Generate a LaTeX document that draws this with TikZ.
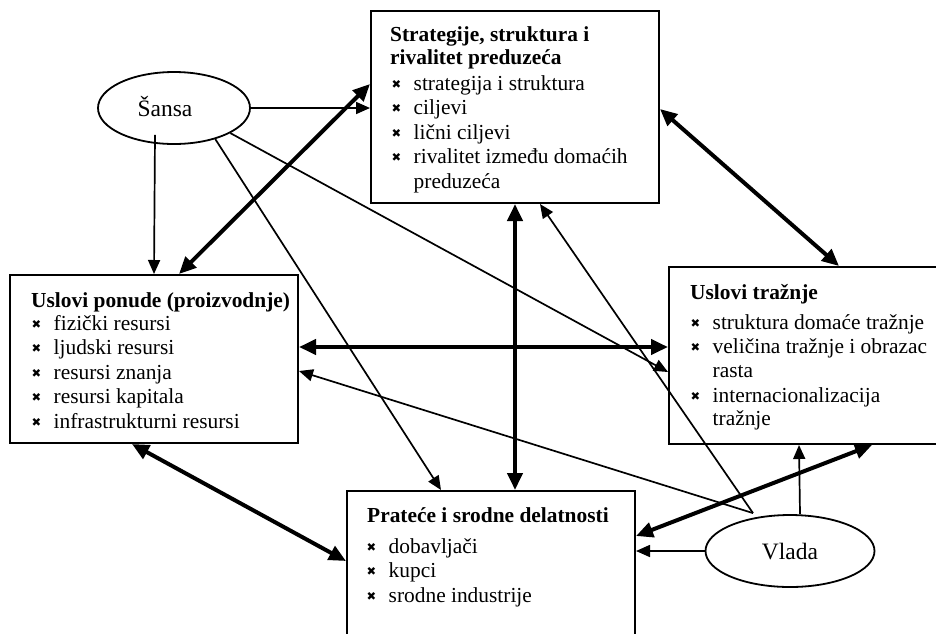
\documentclass[tikz,border=0pt]{standalone}
\usepackage{fontspec}
\setmainfont{Liberation Serif}
\newfontfamily\bulfont{DejaVu Sans}
\usetikzlibrary{arrows.meta,calc,shapes.geometric}
\newcommand\bulx{\makebox[22.5pt][l]{\hspace{0.5pt}\raisebox{2pt}{\bulfont\fontsize{11.5}{11.5}\selectfont ✖}}}
\tikzset{
  box/.style={draw,line width=2pt,rectangle,inner sep=0pt,fill=white},
  oval/.style={draw,line width=1.8pt,ellipse,inner sep=0pt},
  txt/.style={inner sep=0pt,anchor=base west,font=\fontsize{21.4}{24.5}\selectfont},
  ttl/.style={txt,font=\fontsize{21.4}{24.5}\selectfont\bfseries},
  lbl/.style={inner sep=0pt,anchor=base,font=\fontsize{23.5}{26}\selectfont},
  thin/.style={line width=1.7pt,-{Triangle[length=14pt,width=12pt]}},
  thick/.style={line width=4pt,{Triangle[length=17pt,width=15pt]}-{Triangle[length=17pt,width=15pt]}},
}
\begin{document}
\begin{tikzpicture}[x=1pt,y=-1pt]
\useasboundingbox (0,0) rectangle (936,633);
\clip (0,0) rectangle (936,633);
\fill[white] (0,0) rectangle (936,633);
% boxes
\node[box,minimum width=288pt,minimum height=192pt] (strat) at (515,107) {};
\node[box,minimum width=288pt,minimum height=168pt] (pon) at (154,359) {};
\node[box,minimum width=288pt,minimum height=177pt] (tr) at (813,355.5) {};
\node[box,minimum width=288pt,minimum height=168pt] (prat) at (491,575) {};
\node[oval,minimum width=152pt,minimum height=72pt] (sansa) at (174,108) {};
\node[oval,minimum width=169pt,minimum height=72pt] (vlada) at (790,551) {};
% texts
\node[lbl] (sansat) at (165,116) {Šansa};
\node[lbl] (vladat) at (790,559) {Vlada};
% top box
\node[ttl] (s1) at (390,41) {Strategije, struktura i};
\node[ttl] (s2) at (390,64) {rivalitet preduzeća};
\node[txt] (s3) at (391,90) {\bulx strategija i struktura};
\node[txt] (s4) at (391,114.5) {\bulx ciljevi};
\node[txt] (s5) at (391,139) {\bulx lični ciljevi};
\node[txt] (s6) at (391,163.5) {\bulx rivalitet između domaćih};
\node[txt] (s7) at (413.5,188) {preduzeća};
% left box
\node[ttl] (p1) at (31,307) {Uslovi ponude (proizvodnje)};
\node[txt] (p2) at (31,330) {\bulx fizički resursi};
\node[txt] (p3) at (31,354.5) {\bulx ljudski resursi};
\node[txt] (p4) at (31,379) {\bulx resursi znanja};
\node[txt] (p5) at (31,403.5) {\bulx resursi kapitala};
\node[txt] (p6) at (31,428) {\bulx infrastrukturni resursi};
% right box
\node[ttl] (t1) at (690,299) {Uslovi tražnje};
\node[txt] (t2) at (690,329) {\bulx struktura domaće tražnje};
\node[txt] (t3) at (690,353) {\bulx veličina tražnje i obrazac};
\node[txt] (t4) at (712.5,377) {rasta};
\node[txt] (t5) at (690,402) {\bulx internacionalizacija};
\node[txt] (t6) at (712.5,425) {tražnje};
% bottom box
\node[ttl] (r1) at (367,522) {Prateće i srodne delatnosti};
\node[txt] (r2) at (366,553) {\bulx dobavljači};
\node[txt] (r3) at (366,577) {\bulx kupci};
\node[txt] (r4) at (366,602) {\bulx srodne industrije};
% thin arrows from Šansa
\draw[thin] (sansa.east) -- (sansa.east -| strat.west);
\draw[thin] ($(sansa.south)+(-19,-10)$) -- ($(pon.north west)+(145,0)$);
\draw[thin] (sansa.-37) -- ($(prat.north west)+(95,0)$);
\draw[thin] (sansa.-24) -- ($(tr.north west)+(0,106)$);
% thin arrows from Vlada
\draw[thin] (vlada.west) -- (vlada.west -| prat.east);
\draw[thin] ($(vlada.north)+(10,0)$) -- ($(tr.south west)+(131,0)$);
\draw[thin] ($(vlada.north)+(-37,-1)$) -- ($(strat.south)+(25,0)$);
\draw[thin] ($(vlada.north)+(-37,-1)$) -- ($(pon.north east)+(0,97)$);
% thick double arrows
\draw[thick] ($(strat.north west)+(0,74)$) -- ($(pon.north west)+(170,0)$);
\draw[thick] ($(strat.north east)+(0,99)$) -- ($(tr.north west)+(171,0)$);
\draw[thick] ($(pon.north east)+(0,73)$) -- ($(tr.north west)+(0,81)$);
\draw[thick] (strat.south) -- (strat.south |- prat.north);
\draw[thick] ($(pon.south west)+(123,0)$) -- ($(prat.north west)+(0,71)$);
\draw[thick] ($(prat.north east)+(0,46)$) -- ($(tr.south west)+(204,0)$);
\end{tikzpicture}
\end{document}
